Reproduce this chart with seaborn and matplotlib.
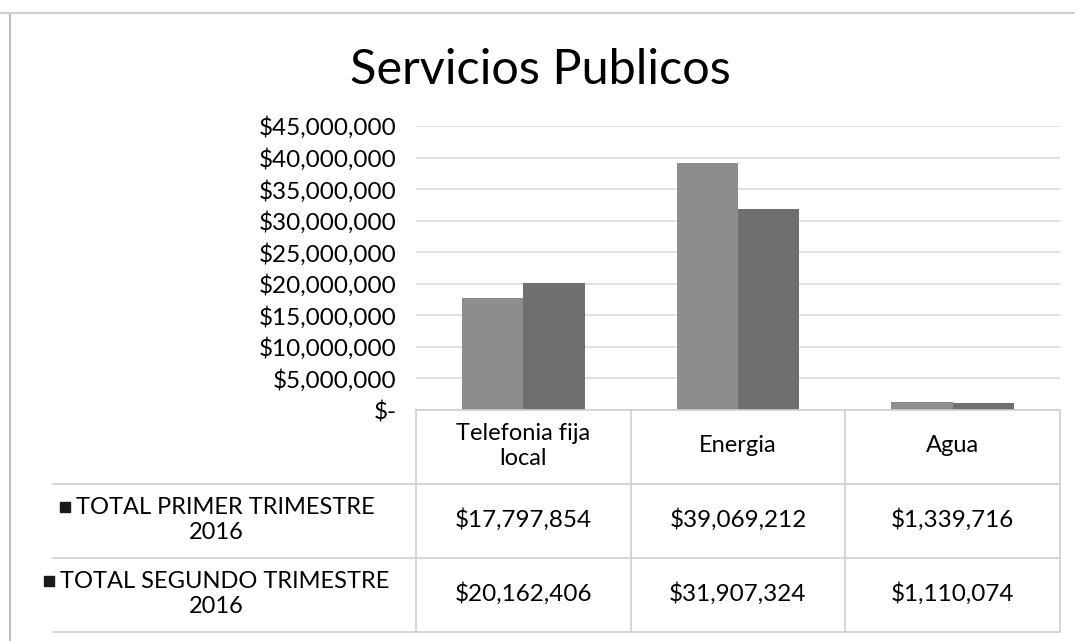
import numpy as np
import pandas as pd
import matplotlib
matplotlib.use("Agg")
import matplotlib.pyplot as plt
import matplotlib.transforms as mtransforms
from matplotlib.lines import Line2D
from matplotlib.ticker import FuncFormatter
import seaborn as sns

# Data
categorias = ["Telefonia fija\nlocal", "Energia", "Agua"]
series = ["TOTAL PRIMER TRIMESTRE\n2016", "TOTAL SEGUNDO TRIMESTRE\n2016"]
primer_trimestre = [17797854, 39069212, 1339716]
segundo_trimestre = [20162406, 31907324, 1110074]
y_ticks = [0, 5000000, 10000000, 15000000, 20000000, 25000000,
           30000000, 35000000, 40000000, 45000000]
colores = ["#8d8d8d", "#6f6f6f"]

df = pd.DataFrame({
    "categoria": categorias * 2,
    "serie": [series[0]] * 3 + [series[1]] * 3,
    "valor": primer_trimestre + segundo_trimestre,
})

sns.set_theme(style="white")
plt.rcParams["font.family"] = ["Lato", "DejaVu Sans"]

W, H = 1075, 641
fig = plt.figure(figsize=(W / 100, H / 100), dpi=100)
fig.patch.set_facecolor("white")


def fx(px):
    return px / W


def fy(py):
    return 1 - py / H


# plot area in pixel terms
left, right, top, base = 416, 1060, 126, 410
ax = fig.add_axes([fx(left), fy(base), fx(right - left), (base - top) / H])

sns.barplot(data=df, x="categoria", y="valor", hue="serie", palette=colores,
            width=0.57, saturation=1, linewidth=0, ax=ax, legend=False)

ax.set_ylim(0, 45000000)
ax.set_yticks(y_ticks)
ax.yaxis.set_major_formatter(
    FuncFormatter(lambda v, p: "$-" if v == 0 else f"${v:,.0f}"))
ax.tick_params(axis="y", length=0, pad=14, labelsize=17.5, labelcolor="black")
ax.tick_params(axis="x", length=0, labelbottom=False)
ax.set_xlabel("")
ax.set_ylabel("")
ax.yaxis.grid(True, color="#dcdcdc", lw=1.2)
ax.set_axisbelow(True)
for s in ["top", "right", "left"]:
    ax.spines[s].set_visible(False)
ax.spines["bottom"].set_color("#d0d0d0")
ax.spines["bottom"].set_linewidth(1.2)

# title
fig.text(fx(540), fy(70), "Servicios Publicos", ha="center", va="center",
         fontsize=35, color="black")

# data table under the chart
trans = mtransforms.blended_transform_factory(ax.transData, fig.transFigure)
line_col = "#d0d0d0"
for xb in [-0.5, 0.5, 1.5, 2.5]:
    fig.add_artist(Line2D([xb, xb], [fy(base), fy(632)], transform=trans,
                          color=line_col, lw=1.2))
for yb in [484, 558, 632]:
    fig.add_artist(Line2D([fx(53), fx(right)], [fy(yb), fy(yb)],
                          transform=fig.transFigure, color=line_col, lw=1.2))

for i, cat in enumerate(categorias):
    ax.text(i, fy(446), cat, transform=trans, ha="center", va="center",
            fontsize=17, color="black", linespacing=1.25)

fila_y = [520, 594]
valores = [primer_trimestre, segundo_trimestre]
etiquetas = []
for j, serie in enumerate(series):
    t = fig.text(fx(216), fy(fila_y[j]), "   " + serie, ha="center",
                 va="center", fontsize=17, color="black", linespacing=1.25)
    etiquetas.append(t)
    for i, v in enumerate(valores[j]):
        ax.text(i, fy(fila_y[j]), f"${v:,.0f}", transform=trans,
                ha="center", va="center", fontsize=17.5, color="black")

# legend keys (small squares) in front of the row labels
fig.canvas.draw()
for t in etiquetas:
    bb = t.get_window_extent()
    mx = bb.x0 + 7
    my = bb.y1 - bb.height / 4 + 1
    fig.add_artist(Line2D([mx / W], [my / H], transform=fig.transFigure,
                          marker="s", markersize=7, color="#1a1a1a", lw=0))

# scanned frame edges
fig.add_artist(Line2D([fx(10), fx(10)], [fy(14), 0], transform=fig.transFigure,
                      color="#bdbdbd", lw=1.5))
fig.add_artist(Line2D([0, 1], [fy(13), fy(13)], transform=fig.transFigure,
                      color="#cfcfcf", lw=1.5))

fig.savefig("out.png", dpi=100, facecolor="white")
